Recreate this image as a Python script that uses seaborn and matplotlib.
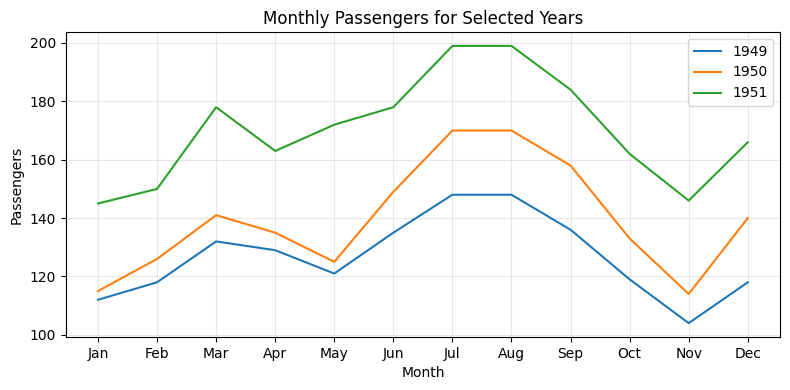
import matplotlib
matplotlib.use("Agg")
import matplotlib.pyplot as plt
import seaborn as sns
import pandas as pd

months = ["Jan", "Feb", "Mar", "Apr", "May", "Jun", "Jul", "Aug", "Sep", "Oct", "Nov", "Dec"]
years = ["1949", "1950", "1951"]
p1949 = [112, 118, 132, 129, 121, 135, 148, 148, 136, 119, 104, 118]
p1950 = [115, 126, 141, 135, 125, 149, 170, 170, 158, 133, 114, 140]
p1951 = [145, 150, 178, 163, 172, 178, 199, 199, 184, 162, 146, 166]

rows = []
for y, vals in zip(years, [p1949, p1950, p1951]):
    for m, v in zip(months, vals):
        rows.append({"Month": m, "Passengers": v, "Year": y})
df = pd.DataFrame(rows)

fig, ax = plt.subplots(figsize=(7.9, 3.9), dpi=100)
sns.lineplot(data=df, x="Month", y="Passengers", hue="Year",
             palette=["#1f77b4", "#ff7f0e", "#2ca02c"], ax=ax, sort=False)
ax.set_title("Monthly Passengers for Selected Years")
ax.set_xlabel("Month")
ax.set_ylabel("Passengers")
ax.grid(True, alpha=0.3)
ax.legend(title=None, loc="upper right")
fig.tight_layout(pad=0.7)
fig.savefig("out.png", dpi=100)
